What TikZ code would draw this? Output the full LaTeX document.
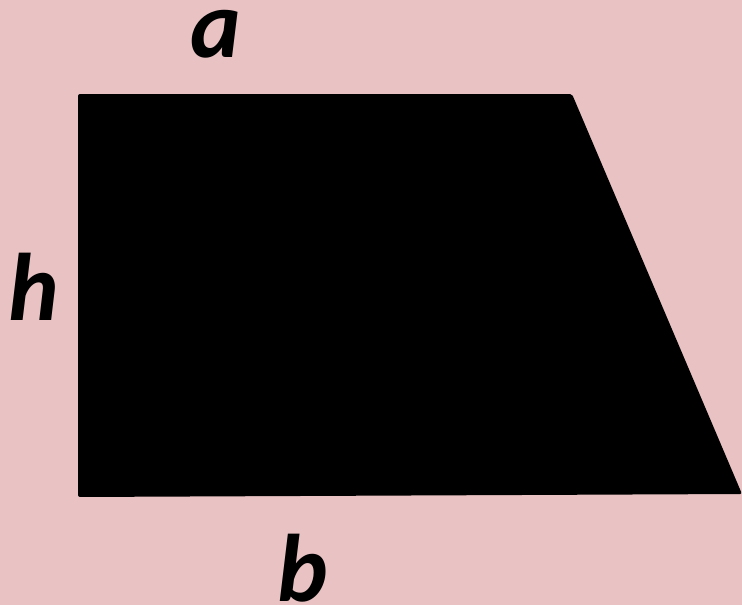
\documentclass[tikz,border=0pt]{standalone}
\usepackage{fontspec}
\setmainfont{Carlito}
\definecolor{paper}{RGB}{233,194,196}
\tikzset{lbl/.style={anchor=base,inner sep=0pt,font=\fontsize{96}{100}\selectfont\bfseries\itshape}}
\begin{document}
\begin{tikzpicture}[x=1pt,y=-1pt]
  \fill[paper](0,0) rectangle (742,605);
  \useasboundingbox (0,0) rectangle (742,605);
 \fill[black,rounded corners=2pt]
	(78,94)--(572,94)--(742,494)--(78,497)--cycle;
  \node[lbl] (a) at (216,57) {a};
  \node[lbl] (h) at (34,320) {h};
  \node[lbl] (b) at (303,601) {b};
\end{tikzpicture}
\end{document}
